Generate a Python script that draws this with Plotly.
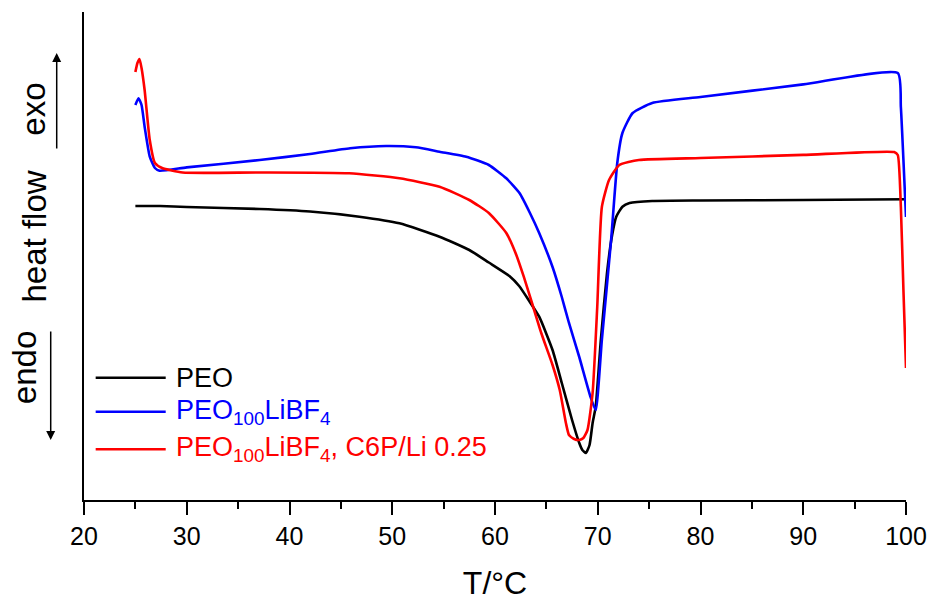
import plotly.graph_objects as go

# Temperature (°C) and heat flow (arbitrary units, exo up)
peo_T = [25.0, 27.4, 30, 37.1, 42, 46.8, 50.7, 54.6, 57.5, 59.4, 61.4, 62.35, 63.3, 64.3,
         65.6, 66.5, 67.5, 68.2, 68.5, 68.85, 69.2, 69.5, 69.8, 70.3, 70.9, 71.4, 71.8,
         72.4, 73.1, 75.3, 80, 90, 100]
peo_H = [294, 294, 293, 291, 288.5, 283.3, 276.7, 263.3, 250, 237.5, 224, 214, 199.5, 183.3,
         150, 117, 80, 57, 50, 47, 55, 77, 93.3, 160, 227, 265, 283.3,
         293.3, 297, 299, 299.5, 300, 300.7]

li_T = [25.0, 25.3, 25.6, 25.9, 26.4, 26.9, 27.35, 30, 37.1, 42, 45.9, 49.4, 52.3, 54.6,
        57.2, 59.4, 61.1, 62.4, 63.4, 64.3, 65.6, 66.5, 67.2, 68.2, 69.3, 69.8, 70.4,
        71.3, 71.9, 72.4, 73.4, 75.3, 80, 90, 99.2, 99.5, 99.75, 100]
li_H = [395, 401.7, 395, 373.3, 343.3, 332, 329.3, 332.6, 340, 346, 351.7, 354, 352.7, 348.3,
        343.3, 335, 321.7, 306.7, 287, 267, 233, 203, 177, 143, 103, 90, 160,
        260, 337, 367, 387, 397, 403, 415.6, 427, 393, 340, 283]

c6p_T = [25.0, 25.2, 25.4, 25.6, 25.9, 26.4, 26.9, 27.6, 29.6, 37.1, 45.8, 50.7, 54.6, 57.5,
         59.4, 61.1, 62.0, 62.8, 63.6, 64.5, 65.6, 66.3, 66.9, 67.2, 67.7, 68.2, 68.6,
         69.0, 69.5, 69.95, 70.4, 71.1, 72.1, 74.0, 80, 90, 98.85, 99.2, 99.5, 99.75, 100]
c6p_H = [428, 437, 441, 432, 410, 360, 337, 332, 327.5, 327.5, 326.7, 321.7, 313.3, 300,
         287, 267, 247, 223.3, 197, 167, 135, 110, 77, 65, 61, 60, 62,
         70, 107, 193, 293, 320, 335, 340, 342, 345.1, 348, 345, 293, 210, 132]

series_names = ["PEO", "PEO<sub>100</sub>LiBF<sub>4</sub>",
                "PEO<sub>100</sub>LiBF<sub>4</sub>, C6P/Li 0.25"]
series_colors = ["#000000", "#0000FF", "#FF0000"]
x_ticks = [20, 30, 40, 50, 60, 70, 80, 90, 100]

FONT = "Liberation Sans, Arial, sans-serif"

fig = go.Figure()
for T, H, name, col in zip([peo_T, li_T, c6p_T], [peo_H, li_H, c6p_H], series_names, series_colors):
    fig.add_trace(go.Scatter(x=T, y=H, mode="lines", name=name,
                             line=dict(color=col, width=2.6, shape="spline", smoothing=0.5),
                             showlegend=False))

# manual legend (long line samples like the original)
leg_y = [0.2506, 0.1809, 0.1039]
for name, col, yy in zip(series_names, series_colors, leg_y):
    fig.add_shape(type="line", xref="paper", yref="paper", x0=0.0142, x1=0.0994, y0=yy, y1=yy,
                  line=dict(color=col, width=2.6))
    fig.add_annotation(xref="paper", yref="paper", x=0.109, y=yy, text=name, showarrow=False,
                       xanchor="left", yanchor="middle", font=dict(family=FONT, size=27, color=col))

# y label: endo / heat flow / exo with arrows
YF = 33
fig.add_annotation(xref="paper", yref="paper", x=-0.0614, y=0.801, text="exo", textangle=-90,
                   showarrow=False, font=dict(family=FONT, size=YF, color="black"),
                   xanchor="center", yanchor="middle")
fig.add_annotation(xref="paper", yref="paper", x=-0.0608, y=0.540, text="heat flow", textangle=-90,
                   showarrow=False, font=dict(family=FONT, size=YF, color="black"),
                   xanchor="center", yanchor="middle")
fig.add_annotation(xref="paper", yref="paper", x=-0.0722, y=0.2715, text="endo", textangle=-90,
                   showarrow=False, font=dict(family=FONT, size=YF, color="black"),
                   xanchor="center", yanchor="middle")
# up arrow
fig.add_annotation(xref="paper", yref="paper", x=-0.0332, y=0.916, ax=0, ay=97, text="",
                   showarrow=True, arrowhead=2, arrowsize=1.2, arrowwidth=1.5, arrowcolor="black")
# down arrow
fig.add_annotation(xref="paper", yref="paper", x=-0.0405, y=0.123, ax=0, ay=-110, text="",
                   showarrow=True, arrowhead=2, arrowsize=1.2, arrowwidth=1.5, arrowcolor="black")

fig.update_layout(
    width=932, height=604,
    margin=dict(l=84, r=26, t=12, b=104, autoexpand=False),
    paper_bgcolor="white", plot_bgcolor="white",
    font=dict(family=FONT, color="black"),
    xaxis=dict(range=[20, 100], tickvals=x_ticks, ticktext=[str(v) for v in x_ticks],
               showline=True, linecolor="black", linewidth=2,
               ticks="outside", ticklen=13, tickwidth=2, tickcolor="black",
               minor=dict(dtick=5, ticks="outside", ticklen=7, tickwidth=2, tickcolor="black",
                          showgrid=False),
               showgrid=False, zeroline=False, automargin=False,
               tickfont=dict(family=FONT, size=25),
               title=dict(text="T/°C", font=dict(family=FONT, size=32), standoff=23)),
    yaxis=dict(range=[0, 488], showline=True, linecolor="black", linewidth=2,
               showticklabels=False, ticks="", showgrid=False, zeroline=False, automargin=False),
)

# remove the default 8 px page margin so the 932x604 figure fills the window exactly
fig.write_html("out.html",
               config={"displayModeBar": False},
               post_script="document.body.style.margin='0';"
                           "document.body.style.padding='0';"
                           "document.documentElement.style.overflow='hidden';"
                           "document.body.style.overflow='hidden';")
